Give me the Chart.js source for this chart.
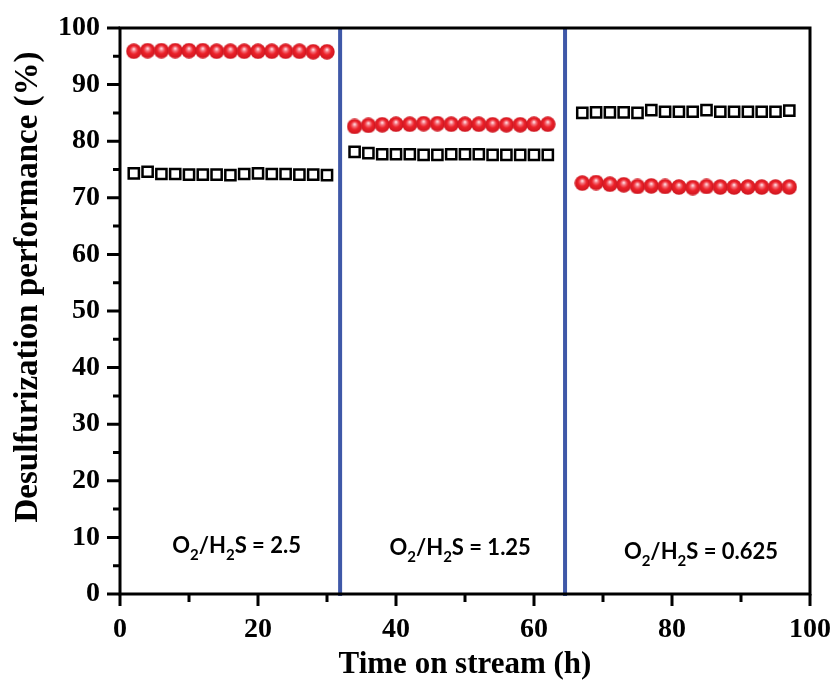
<!DOCTYPE html>
<html lang="en">
<head>
    <meta charset="UTF-8">
    <title>Desulfurization performance</title>
    <script src="https://cdn.jsdelivr.net/npm/chart.js"></script>
    <style>
        body { margin: 0; background: #fff; }
        #wrap { width: 833px; height: 684px; }
    </style>
</head>
<body>
    <div id="wrap"><canvas id="desulfChart"></canvas></div>

    <script>
        // time on stream (h) for the three O2/H2S periods
        const time1 = [2, 4, 6, 8, 10, 12, 14, 16, 18, 20, 22, 24, 26, 28, 30];
        const time2 = [34, 36, 38, 40, 42, 44, 46, 48, 50, 52, 54, 56, 58, 60, 62];
        const time3 = [67, 69, 71, 73, 75, 77, 79, 81, 83, 85, 87, 89, 91, 93, 95, 97];

        // red spheres
        const red1 = [95.9, 96.0, 96.0, 96.0, 96.0, 96.0, 95.9, 95.9, 95.9, 95.9, 95.9, 95.9, 95.9, 95.8, 95.8];
        const red2 = [82.6, 82.8, 82.9, 83.0, 83.0, 83.1, 83.1, 83.0, 83.0, 83.0, 82.9, 82.9, 82.9, 83.0, 83.0];
        const red3 = [72.6, 72.7, 72.4, 72.3, 72.0, 72.1, 72.0, 71.9, 71.8, 72.0, 71.9, 71.9, 71.9, 71.9, 71.9, 71.9];

        // open squares
        const black1 = [74.3, 74.6, 74.2, 74.2, 74.1, 74.1, 74.1, 74.0, 74.2, 74.3, 74.2, 74.2, 74.1, 74.1, 74.0];
        const black2 = [78.1, 77.9, 77.7, 77.7, 77.7, 77.6, 77.6, 77.7, 77.7, 77.7, 77.6, 77.6, 77.6, 77.6, 77.6];
        const black3 = [85.0, 85.1, 85.1, 85.1, 85.0, 85.5, 85.2, 85.2, 85.2, 85.5, 85.2, 85.2, 85.2, 85.2, 85.2, 85.4];

        // period boundaries (h) and labels
        const dividers = [31.9, 64.5];
        const ratioLabels = ['2.5', '1.25', '0.625'];

        const xTicks = [0, 20, 40, 60, 80, 100];
        const yTicks = [0, 10, 20, 30, 40, 50, 60, 70, 80, 90, 100];

        function pts(xs, ys) {
            return xs.map((x, i) => ({ x: x, y: ys[i] }));
        }

        // glossy red ball used as point style
        function makeBall(d) {
            const c = document.createElement('canvas');
            c.width = d; c.height = d;
            const g = c.getContext('2d');
            const r = d / 2;
            const grad = g.createRadialGradient(r, r * 0.72, 0.5, r, r, r);
            grad.addColorStop(0, '#ffd6da');
            grad.addColorStop(0.22, '#f4707a');
            grad.addColorStop(0.5, '#ec2129');
            grad.addColorStop(1, '#cc1620');
            g.fillStyle = grad;
            g.beginPath();
            g.arc(r, r, r - 0.3, 0, Math.PI * 2);
            g.fill();
            return c;
        }
        const ball = makeBall(16);

        const serif = "'Liberation Serif', 'Times New Roman', serif";

        // frame, minor ticks, period lines and text labels
        const decor = {
            id: 'decor',
            beforeDatasetsDraw(chart) {
                const ctx = chart.ctx;
                const a = chart.chartArea;
                const xs = chart.scales.x;
                ctx.save();
                ctx.strokeStyle = '#3f58a8';
                ctx.lineWidth = 4;
                dividers.forEach(v => {
                    const px = xs.getPixelForValue(v);
                    ctx.beginPath();
                    ctx.moveTo(px, a.top);
                    ctx.lineTo(px, a.bottom + 2);
                    ctx.stroke();
                });
                ctx.restore();
            },
            afterDraw(chart) {
                const ctx = chart.ctx;
                const a = chart.chartArea;
                const xs = chart.scales.x;
                const ys = chart.scales.y;
                ctx.save();
                ctx.strokeStyle = '#000';
                ctx.lineWidth = 3;
                ctx.strokeRect(a.left, a.top, a.right - a.left, a.bottom - a.top);

                ctx.lineWidth = 3;
                ctx.beginPath();
                for (let v = 0; v <= 100; v += 5) {
                    const py = ys.getPixelForValue(v);
                    const len = v % 10 === 0 ? 13 : 7;
                    ctx.moveTo(a.left - len, py);
                    ctx.lineTo(a.left, py);
                }
                for (let v = 0; v <= 100; v += 10) {
                    const px = xs.getPixelForValue(v);
                    const len = v % 20 === 0 ? 12 : 8;
                    ctx.moveTo(px, a.bottom);
                    ctx.lineTo(px, a.bottom + len);
                }
                ctx.stroke();

                // y title
                ctx.fillStyle = '#000';
                ctx.font = 'bold 33px ' + serif;
                ctx.textAlign = 'center';
                ctx.textBaseline = 'middle';
                ctx.translate(28, 287);
                ctx.rotate(-Math.PI / 2);
                ctx.fillText('Desulfurization performance (%)', 0, 0);
                ctx.restore();

                // O2/H2S labels
                const places = [16.9, 49.3, 84.2];
                const lift = [8.6, 8.3, 7.6];
                ctx.save();
                ctx.fillStyle = '#000';
                ctx.textBaseline = 'alphabetic';
                const big = "bold 22px Lato, 'Open Sans', sans-serif";
                const small = "bold 15px Lato, 'Open Sans', sans-serif";
                ratioLabels.forEach((txt, i) => {
                    const parts = [
                        ['O', big, 0], ['2', small, 7], ['/H', big, 0], ['2', small, 7], ['S = ' + txt, big, 0]
                    ];
                    let w = 0;
                    parts.forEach(p => { ctx.font = p[1]; w += ctx.measureText(p[0]).width; });
                    let x = xs.getPixelForValue(places[i]) - w / 2;
                    const y = ys.getPixelForValue(lift[i]) + 8;
                    parts.forEach(p => {
                        ctx.font = p[1];
                        ctx.fillText(p[0], x, y + p[2]);
                        x += ctx.measureText(p[0]).width;
                    });
                });
                ctx.restore();
            }
        };

        new Chart(document.getElementById('desulfChart'), {
            type: 'scatter',
            data: {
                datasets: [
                    {
                        label: 'squares',
                        data: pts(time1, black1).concat(pts(time2, black2), pts(time3, black3)),
                        pointStyle: 'rect',
                        pointRadius: 7.2,
                        pointBorderWidth: 2.5,
                        pointBorderColor: '#000',
                        pointBackgroundColor: '#fff',
                        showLine: false
                    },
                    {
                        label: 'spheres',
                        data: pts(time1, red1).concat(pts(time2, red2), pts(time3, red3)),
                        pointStyle: ball,
                        pointRadius: 8,
                        showLine: false
                    }
                ]
            },
            options: {
                responsive: true,
                maintainAspectRatio: false,
                animation: false,
                layout: { padding: { top: 28, right: 23, left: 0, bottom: 0 } },
                plugins: {
                    legend: { display: false },
                    tooltip: { enabled: false }
                },
                scales: {
                    x: {
                        type: 'linear',
                        min: 0,
                        max: 100,
                        afterBuildTicks: s => { s.ticks = xTicks.map(v => ({ value: v })); },
                        afterFit: s => { s.height = 90; s.paddingLeft = 0; s.paddingRight = 0; },
                        ticks: {
                            color: '#000',
                            padding: 7,
                            maxRotation: 0,
                            font: { family: serif, size: 28, weight: 'bold' }
                        },
                        grid: { drawOnChartArea: false, tickLength: 12, color: 'rgba(0,0,0,0)' },
                        border: { display: false },
                        title: {
                            display: true,
                            text: 'Time on stream (h)',
                            color: '#000',
                            padding: { top: 0, bottom: 0 },
                            font: { family: serif, size: 31, weight: 'bold' }
                        }
                    },
                    y: {
                        min: 0,
                        max: 100,
                        afterBuildTicks: s => { s.ticks = yTicks.map(v => ({ value: v })); },
                        afterFit: s => { s.width = 120; s.paddingTop = 0; s.paddingBottom = 0; },
                        ticks: {
                            color: '#000',
                            padding: 7,
                            font: { family: serif, size: 28, weight: 'bold' }
                        },
                        grid: { drawOnChartArea: false, tickLength: 13, color: 'rgba(0,0,0,0)' },
                        border: { display: false }
                    }
                }
            },
            plugins: [decor]
        });
    </script>
</body>
</html>
